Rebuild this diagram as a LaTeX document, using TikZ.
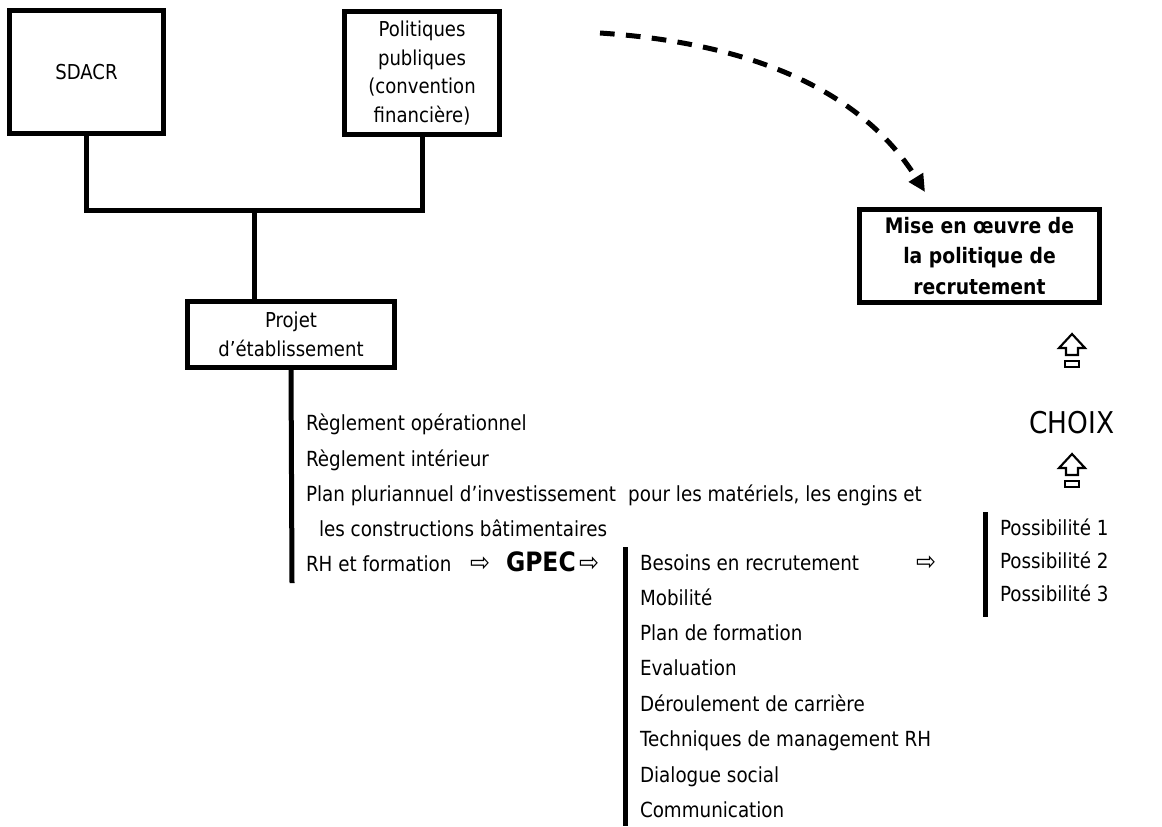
\documentclass[tikz,border=0pt]{standalone}
\usepackage{fontspec}
\setmainfont{DejaVu Sans}[FakeStretch=0.88]
\newfontfamily\symfont{DejaVu Sans}
\usetikzlibrary{arrows.meta}
\newcommand{\rarr}{\resizebox{15pt}{11pt}{\symfont ⇨}}
\tikzset{
  every node/.style={inner sep=0pt, outer sep=0pt},
  box/.style={draw, line width=3.75pt, align=center, font=\fontsize{15.4}{21.5}\selectfont},
  boldbox/.style={box, font=\bfseries\fontsize{16}{22.8}\selectfont},
  conn/.style={line width=3.75pt},
  item/.style={anchor=base west, font=\fontsize{15.6}{18}\selectfont},
  rarrow/.style={anchor=west},
  dasharrow/.style={conn, dash pattern=on 11pt off 8.5pt, -{Triangle[length=13pt,width=12pt]}},
  uparr/.pic={
    \draw[line width=1.6pt, line join=miter] (0,-16) -- (13,-2) -- (6,-2) -- (6,5) -- (-6,5) -- (-6,-2) -- (-13,-2) -- cycle;
    \draw[line width=1.6pt] (-7,11) rectangle (7,17);
  },
}
\begin{document}
\begin{tikzpicture}[x=0.75pt, y=-0.75pt]
\useasboundingbox (0,0) rectangle (1162,826);

% boxes
\node[box, minimum width=116pt, minimum height=92pt] (sdacr) at (86.5,72) {SDACR};
\node[box, minimum width=116pt, minimum height=92pt] (pol) at (422,73) {Politiques\\publiques\\(convention\\financière)};
\node[box, minimum width=155pt, minimum height=49.5pt] (proj) at (291,334.5) {Projet\\d’établissement};
\node[boldbox, minimum width=180pt, minimum height=70pt] (mise) at (979.5,256) {Mise en œuvre de\\la politique de\\recrutement};

% tree connectors
\coordinate (j) at (254,210);
\draw[conn] (sdacr.south) |- (j) -| (pol.south);
\draw[conn] (j) -- (j |- proj.north);
\coordinate (lend) at (292,583);
\draw[conn] (proj.south) -- (lend);

% dashed curved arrow
\coordinate (ds) at (600,33);
\coordinate (de) at (925,192);
\draw[dasharrow] (ds) .. controls (780,45) and (872,107) .. (de);

% project list
\node[item] (r1) at (306,430) {Règlement opérationnel};
\node[item] (r2) at (306,466) {Règlement intérieur};
\node[item] (r3) at (306,501) {Plan pluriannuel d’investissement\hspace{0.3em} pour les matériels, les engins et};
\node[item] (r4) at (319,536) {les constructions bâtimentaires};
\node[item] (rh) at (306,571) {RH et formation};
\node[rarrow] (a1) at (470,564) {\rarr};
\node[item, font=\bfseries\fontsize{20}{20}\selectfont] (gpec) at (506,571) {GPEC};
\node[rarrow] (a2) at (579,564) {\rarr};

% GPEC list
\coordinate (gtop) at (625,547);
\coordinate (gbot) at (625,826);
\draw[conn] (gtop) -- (gbot);
\node[item] (g1) at (640,570) {Besoins en recrutement};
\node[rarrow] (a3) at (916,563) {\rarr};
\node[item] (g2) at (640,605) {Mobilité};
\node[item] (g3) at (640,640) {Plan de formation};
\node[item] (g4) at (640,675) {Evaluation};
\node[item] (g5) at (640,711) {Déroulement de carrière};
\node[item] (g6) at (640,746) {Techniques de management RH};
\node[item] (g7) at (640,782) {Dialogue social};
\node[item] (g8) at (640,817) {Communication};

% possibilities
\coordinate (ptop) at (985,512);
\coordinate (pbot) at (985,617);
\draw[conn] (ptop) -- (pbot);
\node[item] (p1) at (1000,535) {Possibilité 1};
\node[item] (p2) at (1000,568) {Possibilité 2};
\node[item] (p3) at (1000,601) {Possibilité 3};

% choice
\pic at (1072,350) {uparr};
\node[font=\fontsize{22.5}{22.5}\selectfont] (choix) at (1072,423) {CHOIX};
\pic at (1072,470) {uparr};
\end{tikzpicture}
\end{document}
